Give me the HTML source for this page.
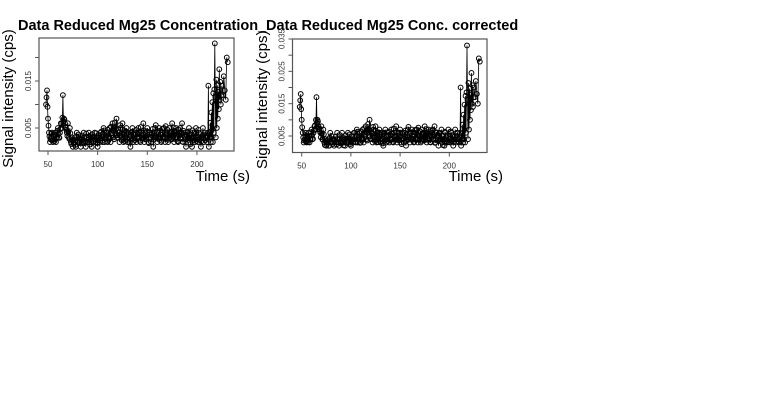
<!DOCTYPE html>
<html><head><meta charset="utf-8"><style>
html,body{margin:0;padding:0;background:#fff;}
svg{display:block;font-family:"Liberation Sans",Arial,sans-serif;}
</style></head><body>
<svg id="c" width="760" height="400">
<text x="18" y="30" font-size="14.5" font-weight="bold">Data Reduced Mg25 Concentration_</text>
<text x="266" y="30" font-size="14.5" font-weight="bold">Data Reduced Mg25 Conc. corrected</text>
<g id="p1"></g>
<g id="p2"></g>
</svg>
<script>
const times = [48,49,50,51,52,53,54,55,56,57,58,59,60,61,62,63,64,65,66,67,68,69,70,71,72,73,74,75,76,77,78,79,80,81,82,83,84,85,86,87,88,89,90,91,92,93,94,95,96,97,98,99,100,101,102,103,104,105,106,107,108,109,110,111,112,113,114,115,116,117,118,119,120,121,122,123,124,125,126,127,128,129,130,131,132,133,134,135,136,137,138,139,140,141,142,143,144,145,146,147,148,149,150,151,152,153,154,155,156,157,158,159,160,161,162,163,164,165,166,167,168,169,170,171,172,173,174,175,176,177,178,179,180,181,182,183,184,185,186,187,188,189,190,191,192,193,194,195,196,197,198,199,200,201,202,203,204,205,206,207,208,209,210,211,212,213,214,215,216,217,218,219,220,221,222,223,224,225,226,227,228,229,230,231];
const concValues = [10,13,7,4,2,3,4,2,3,4,2,3,5,3,4,6,5,12,7,6,5,4,6,3,5,2,3,1,2,3,1,4,2,3,2,1,3,2,4,2,1,3,2,4,2,3,1,3,2,4,2,3,1,3,2,4,3,2,5,2,3,4,2,3,5,2,4,6,3,5,4,7,3,4,2,5,3,6,2,4,3,5,2,4,3,1,4,5,2,3,4,2,3,5,3,2,4,3,6,2,4,3,5,2,4,3,2,4,1,3,5,3,2,4,5,3,2,4,3,5,2,4,3,2,5,3,4,6,3,2,4,5,3,2,4,5,3,6,2,4,3,1,4,3,5,2,3,1,4,3,2,5,3,2,4,3,1,3,5,2,4,3,2,4,1,3,2,3,2,4,23,3,5,7,9,11,10,14,12,16,13,11,20,19];
const concValuesHalf = [11.5,9.5,5.5,3.2,2.6,3.8,2.4,3.1,2.2,3.6,2.8,4.4,3.7,2.9,4.8,5.9,7.2,6.4,6.8,5.2,4.6,3.3,4.1,2.7,3.9,1.6,2.4,1.8,2.6,1.4,3.2,2.3,3.6,1.8,2.7,2.5,3.4,1.7,2.9,2.2,3.8,1.9,2.6,3.3,1.5,2.8,3.7,2.1,3.0,2.6,3.9,1.8,2.4,3.5,2.8,4.2,2.3,3.6,4.5,2.7,3.4,2.1,4.6,3.2,2.8,5.3,3.9,4.4,2.6,6.2,4.8,3.5,2.9,4.1,5.6,3.3,2.4,4.7,3.6,2.2,4.3,3.8,2.5,3.1,1.9,3.6,4.2,2.8,3.5,2.4,4.6,2.9,3.7,4.1,2.3,5.2,3.4,2.7,4.5,3.1,2.6,4.3,3.5,1.8,4.0,2.9,3.6,4.8,2.5,3.3,5.6,4.2,3.1,2.7,4.4,3.6,2.3,4.9,3.2,2.8,5.4,3.7,4.6,2.5,3.9,4.1,2.6,3.3,5.1,4.4,2.9,3.6,2.2,4.7,3.4,2.7,3.8,2.1,4.4,3.2,2.6,3.5,4.2,2.8,3.7,1.6,2.9,4.5,3.3,2.4,3.8,2.2,3.1,4.6,2.5,3.7,2.2,3.4,2.8,3.6,2.4,2.9,3.3,14,4.2,6.1,8.3,10.5,12.4,13.2,11.6,15.3,14.1,12.7,17.5,14.8,12];
const corrValues = [14,18,10,6,3,4,6,3,4,6,3,4,7,4,6,8,7,17,10,8,7,6,8,4,7,3,4,2,3,4,2,6,3,4,3,2,4,3,6,3,2,4,3,6,3,4,2,4,3,6,3,4,2,4,3,6,4,3,7,3,4,6,3,4,7,3,6,8,4,7,6,10,4,6,3,7,4,8,3,6,4,7,3,6,4,2,6,7,3,4,6,3,4,7,4,3,6,4,8,3,6,4,7,3,6,4,3,6,2,4,7,4,3,6,7,4,3,6,4,7,3,6,4,3,7,4,6,8,4,3,6,7,4,3,6,7,4,8,3,6,4,2,6,4,7,3,4,2,6,4,3,7,4,3,6,4,2,4,7,3,6,4,3,6,2,4,3,4,3,6,33,4,7,10,13,15,14,20,17,22,18,15,29,28];
const corrValuesHalf = [16,13.3,7.7,4.5,3.6,5.3,3.4,4.3,3.1,5,3.9,6.2,5.2,4.1,6.7,8.3,10,9,9.5,7.3,6.4,4.6,5.7,3.8,5.5,2.2,3.4,2.5,3.6,2,4.5,3.2,5,2.5,3.8,3.5,4.8,2.4,4.1,3.1,5.3,2.7,3.6,4.6,2.1,3.9,5.2,2.9,4.2,3.6,5.5,2.5,3.4,4.9,3.9,5.9,3.2,5,6.3,3.8,4.8,2.9,6.4,4.5,3.9,7.4,5.5,6.2,3.6,8.7,6.7,4.9,4.1,5.7,7.8,4.6,3.4,6.6,5,3.1,6,5.3,3.5,4.3,2.7,5,5.9,3.9,4.9,3.4,6.4,4.1,5.2,5.7,3.2,7.3,4.8,3.8,6.3,4.3,3.6,6,4.9,2.5,5.6,4.1,5,6.7,3.5,4.6,7.8,5.9,4.3,3.8,6.2,5,3.2,6.9,4.5,3.9,7.6,5.2,6.4,3.5,5.5,5.7,3.6,4.6,7.1,6.2,4.1,5,3.1,6.6,4.8,3.8,5.3,2.9,6.2,4.5,3.6,4.9,5.9,3.9,5.2,2.2,4.1,6.3,4.6,3.4,5.3,3.1,4.3,6.4,3.5,5.2,3.1,4.8,3.9,5,3.4,4.1,4.6,20,5.9,8.5,11.6,14.7,17.4,18.5,16.2,21.4,19.7,17.8,24.5,20.7,17];
const xTicks = [50,100,150,200];
const yTicks1 = [0.005,0.010,0.015,0.020];
const yLabels1 = ["0.005","","0.015",""];
const yTicks2 = [0.005,0.010,0.015,0.020,0.025,0.030,0.035];
const yLabels2 = ["0.005","","0.015","","0.025","","0.035"];
const NS="http://www.w3.org/2000/svg";
function mk(tag,parent,attrs){const e=document.createElementNS(NS,tag);for(const k in attrs)e.setAttribute(k,attrs[k]);parent.appendChild(e);return e;}
function panel(g,cfg,vals,valsHalf,yt,yl,prefix){
  const X=t=>cfg.x50+(t-50)*cfg.sx;
  const Y=v=>cfg.y0-(v-cfg.v0)*cfg.sy;
  const seq=[];
  times.forEach((t,i)=>{
    if(vals[i]!==undefined) seq.push([t,vals[i]]);
    if(valsHalf[i]!==undefined) seq.push([t+0.5,valsHalf[i]]);
  });
  const pts=seq.map(p=>X(p[0]).toFixed(1)+','+Y(p[1]*0.001).toFixed(1)).join(' ');
  const pl=mk('polyline',g,{points:pts,fill:'none',stroke:'#000','stroke-width':'0.8'});
  
  
  seq.forEach(p=>{
    const c=mk('circle',g,{cx:X(p[0]),cy:Y(p[1]*0.001),r:2.4,fill:'none',stroke:'#000','stroke-width':'1'});
    
    
  });
  const box=mk('rect',g,{x:cfg.bx,y:cfg.by,width:cfg.bw,height:cfg.bh,fill:'none',stroke:'#555','stroke-width':'1.2'});
  
  
  xTicks.forEach(t=>{
    const l=mk('line',g,{x1:X(t),x2:X(t),y1:cfg.by+cfg.bh,y2:cfg.by+cfg.bh+4,stroke:'#555'});
    
    
    const tx=mk('text',g,{x:X(t),y:cfg.by+cfg.bh+16,'font-size':'8','text-anchor':'middle',fill:'#333'});
    tx.textContent=t;
    
    
  });
  yt.forEach((v,i)=>{
    const y=Y(v);
    const l=mk('line',g,{x1:cfg.bx-4,x2:cfg.bx,y1:y,y2:y,stroke:'#555'});
    
    
    if(yl[i]){
      const tx=mk('text',g,{x:0,y:0,'font-size':'8','text-anchor':'middle',fill:'#333',transform:`translate(${cfg.bx-8},${y}) rotate(-90)`});
      tx.textContent=yl[i];
      
      
    }
  });
  const yl2=mk('text',g,{x:0,y:0,'font-size':'15','text-anchor':'middle',transform:`translate(${cfg.ylx},${cfg.by+cfg.bh/2+4}) rotate(-90)`});
  yl2.textContent='Signal intensity (cps)';
  
  
  const xl=mk('text',g,{x:cfg.bx+cfg.bw+16,y:181,'font-size':'15','text-anchor':'end'});
  xl.textContent='Time (s)';
  
  
}
panel(document.getElementById('p1'),{x50:48,sx:0.993,y0:128,v0:0.005,sy:4700,bx:39,by:38,bw:195,bh:113,ylx:13},concValues,concValuesHalf,yTicks1,yLabels1,'left');
panel(document.getElementById('p2'),{x50:301.7,sx:0.984,y0:136,v0:0.005,sy:3233,bx:292.5,by:39,bw:194.5,bh:113.5,ylx:267},corrValues,corrValuesHalf,yTicks2,yLabels2,'right');
</script>
</body></html>
